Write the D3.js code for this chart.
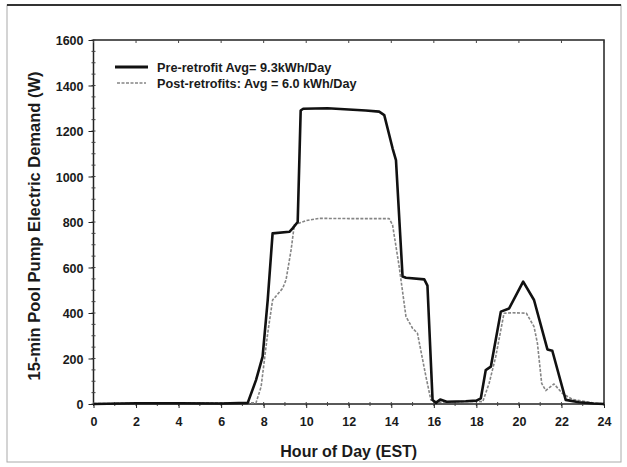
<!DOCTYPE html>
<html>
<head>
<meta charset="utf-8">
<script src="https://cdn.jsdelivr.net/npm/d3@7"></script>
<style>
  body { margin: 0; background: #fff; }
  svg { display: block; }
  text { font-family: "Liberation Sans", Arial, sans-serif; fill: #1a1a1a; }
</style>
</head>
<body>
<div class="chart"></div>
<script>
// values (hour of day, watts)
const preHours = [0, 2, 4, 6, 7.25, 7.64, 7.95, 8.19, 8.42, 9.21, 9.36, 9.6, 9.74, 9.86, 11, 12.8, 13.43, 13.67, 14.06, 14.22, 14.53, 14.69, 15.55, 15.7, 15.94, 16.1, 16.3, 16.6, 17.5, 18.0, 18.21, 18.44, 18.68, 19.15, 19.54, 20.2, 20.71, 21.34, 21.57, 22.2, 22.83, 23.5, 24];
const preWatts = [0, 3, 3, 2, 5, 105, 208, 457, 750, 757, 772, 800, 1290, 1298, 1300, 1290, 1285, 1270, 1124, 1072, 560, 555, 548, 520, 18, 5, 20, 10, 12, 15, 25, 149, 164, 406, 420, 538, 457, 240, 234, 18, 8, 2, 0];

const postHours = [0, 4, 7.64, 7.88, 8.19, 8.42, 8.89, 9.05, 9.29, 9.44, 9.99, 10.6, 12, 13.9, 14.06, 14.37, 14.69, 15.0, 15.23, 15.63, 15.86, 16.2, 17, 18, 18.3, 18.6, 18.91, 19.3, 19.7, 20.35, 20.71, 20.87, 21.07, 21.26, 21.65, 22.04, 22.5, 23.45, 24];
const postWatts = [2, 4, 5, 76, 311, 457, 508, 545, 677, 787, 806, 816, 815, 815, 787, 604, 384, 333, 311, 120, 18, 8, 10, 12, 10, 91, 208, 399, 401, 399, 340, 267, 91, 59, 88, 47, 21, 5, 0];

const xTicks = d3.range(0, 25, 2);
const yTicks = d3.range(0, 1601, 200);
const legendLabels = ["Pre-retrofit Avg= 9.3kWh/Day", "Post-retrofits: Avg = 6.0 kWh/Day"];
const xTitle = "Hour of Day (EST)";
const yTitle = "15-min Pool Pump Electric Demand (W)";

const width = 627, height = 467;
const margin = {top: 40, right: 23, bottom: 63, left: 93.5};

const svg = d3.select(".chart").append("svg")
    .attr("width", width)
    .attr("height", height);

// scanned page frame
svg.append("rect")
    .attr("x", 7).attr("y", 5)
    .attr("width", 614).attr("height", 457)
    .attr("fill", "none")
    .attr("stroke", "#aaa")
    .attr("stroke-width", 1);
svg.append("line")
    .attr("x1", 7).attr("x2", 621)
    .attr("y1", 5).attr("y2", 5)
    .attr("stroke", "#333")
    .attr("stroke-width", 2);

const x = d3.scaleLinear()
    .domain([0, 24])
    .range([margin.left, width - margin.right]);
const y = d3.scaleLinear()
    .domain([0, 1600])
    .range([height - margin.bottom, margin.top]);

// plot frame
svg.append("rect")
    .attr("x", x(0)).attr("y", y(1600))
    .attr("width", x(24) - x(0)).attr("height", y(0) - y(1600))
    .attr("fill", "none")
    .attr("stroke", "#222")
    .attr("stroke-width", 1.5);

// minor ticks
svg.append("g")
    .attr("stroke", "#444")
  .selectAll("line")
  .data(d3.range(0, 1601, 50))
  .join("line")
    .attr("x1", x(0) - 2).attr("x2", x(0) + 2)
    .attr("y1", d => y(d)).attr("y2", d => y(d));
svg.append("g")
    .attr("stroke", "#444")
  .selectAll("line")
  .data(d3.range(0, 25, 1))
  .join("line")
    .attr("x1", d => x(d)).attr("x2", d => x(d))
    .attr("y1", y(0) - 2).attr("y2", y(0) + 2);
svg.append("g")
    .attr("stroke", "#444")
  .selectAll("line")
  .data(xTicks)
  .join("line")
    .attr("x1", d => x(d)).attr("x2", d => x(d))
    .attr("y1", y(1600)).attr("y2", y(1600) + 3);

// axes
const xAxis = svg.append("g")
    .attr("transform", `translate(0,${y(0)})`)
    .call(d3.axisBottom(x).tickValues(xTicks).tickSize(4).tickPadding(9));
const yAxis = svg.append("g")
    .attr("transform", `translate(${x(0)},0)`)
    .call(d3.axisLeft(y).tickValues(yTicks).tickFormat(d3.format("d")).tickSize(5).tickPadding(5));

[xAxis, yAxis].forEach(g => {
  g.select(".domain").remove();
  g.selectAll(".tick line").attr("stroke", "#222");
  g.selectAll(".tick text")
    .attr("font-size", 12.5)
    .attr("font-weight", "bold")
    .attr("fill", "#1a1a1a")
    .attr("font-family", "\"Liberation Sans\", Arial, sans-serif");
});
yAxis.selectAll(".tick text").attr("dy", "0.36em");

// series
const line = d3.line()
    .x(d => x(d[0]))
    .y(d => y(d[1]));

svg.append("path")
    .datum(postHours.map((h, i) => [h, postWatts[i]]))
    .attr("fill", "none")
    .attr("stroke", "#858585")
    .attr("stroke-width", 1.6)
    .attr("stroke-dasharray", "3,1.5")
    .attr("stroke-linejoin", "round")
    .attr("d", line);

svg.append("path")
    .datum(preHours.map((h, i) => [h, preWatts[i]]))
    .attr("fill", "none")
    .attr("stroke", "#111")
    .attr("stroke-width", 2.6)
    .attr("stroke-linejoin", "round")
    .attr("d", line);

// legend
const legend = svg.append("g");
legend.append("line")
    .attr("x1", 115).attr("x2", 148)
    .attr("y1", 67).attr("y2", 67)
    .attr("stroke", "#111")
    .attr("stroke-width", 3);
legend.append("line")
    .attr("x1", 117).attr("x2", 146)
    .attr("y1", 83).attr("y2", 83)
    .attr("stroke", "#858585")
    .attr("stroke-width", 1.4)
    .attr("stroke-dasharray", "3,1.5");
legend.selectAll("text")
  .data(legendLabels)
  .join("text")
    .attr("x", 157)
    .attr("y", (d, i) => 71.5 + i * 16)
    .attr("font-size", 12.7)
    .attr("font-weight", "bold")
    .text(d => d);

// axis titles
svg.append("text")
    .attr("x", (x(0) + x(24)) / 2)
    .attr("y", 457)
    .attr("text-anchor", "middle")
    .attr("font-size", 16)
    .attr("font-weight", "bold")
    .text(xTitle);

svg.append("text")
    .attr("transform", `translate(40,${(y(0) + y(1600)) / 2 + 4}) rotate(-90)`)
    .attr("text-anchor", "middle")
    .attr("font-size", 16.5)
    .attr("font-weight", "bold")
    .text(yTitle);
</script>
</body>
</html>
